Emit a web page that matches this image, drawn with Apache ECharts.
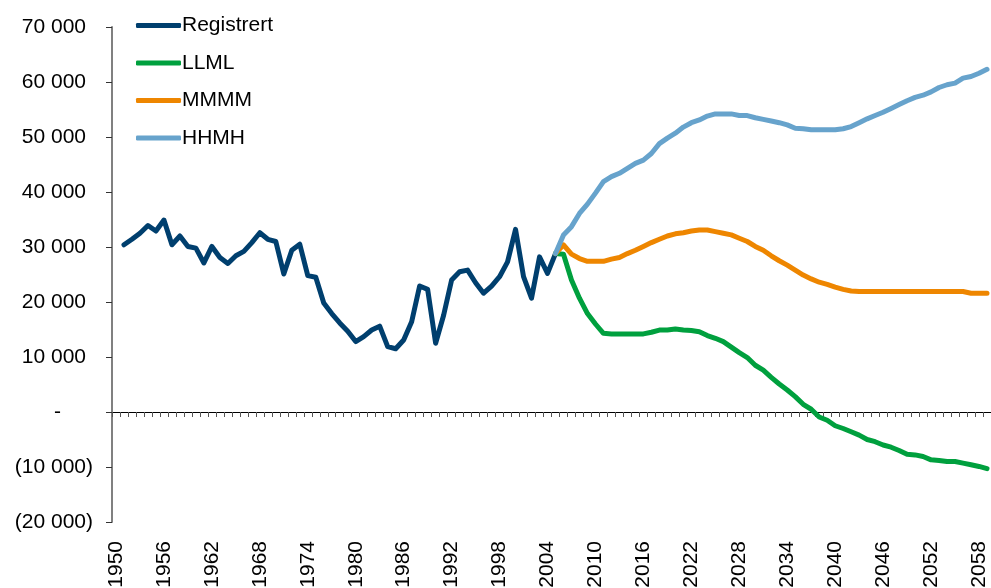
<!DOCTYPE html>
<html>
<head>
<meta charset="utf-8">
<script src="https://cdn.jsdelivr.net/npm/echarts@6/dist/echarts.min.js"></script>
<style>
  html, body { margin: 0; padding: 0; background: #fff; }
  #chart { width: 991px; height: 588px; }
</style>
</head>
<body>
<div id="chart"></div>
<script>
// år 1950-2059
var years = []
for (var y = 1950; y <= 2059; y++) years.push(String(y))

// registrert, 1951-2005
var registrert = [
  30400, 31400, 32500, 33900, 32900, 34900, 30400, 32000, 30100, 29800,
  27100, 30100, 28100, 27000, 28400, 29200, 30800, 32600, 31400, 31000,
  25100, 29400, 30500, 24800, 24500, 19800, 17900, 16200, 14700, 12800,
  13700, 14900, 15600, 11900, 11500, 13100, 16400, 22900, 22300, 12500,
  17600, 24000, 25500, 25800, 23500, 21600, 22900, 24600, 27300, 33200,
  24600, 20700, 28200, 25200, 28800
]

// framskrivinger, 2005-2059
var llml = [
  28800, 28700, 24000, 20700, 17900, 16000, 14300, 14200, 14200, 14200,
  14200, 14200, 14500, 14900, 14900, 15100, 14900, 14800, 14600, 13900,
  13400, 12800, 11800, 10800, 9900, 8500, 7600, 6300, 5100, 4000,
  2800, 1400, 500, -900, -1500, -2500, -3000, -3600, -4200, -5000,
  -5400, -6000, -6400, -7000, -7700, -7800, -8100, -8700, -8800, -9000,
  -9000, -9300, -9600, -9900, -10300
]
var mmmm = [
  28800, 30400, 28700, 27900, 27400, 27400, 27400, 27800, 28100, 28800,
  29400, 30100, 30800, 31400, 32000, 32400, 32600, 32900, 33100, 33100,
  32800, 32500, 32200, 31600, 31000, 30100, 29400, 28400, 27500, 26700,
  25800, 24900, 24200, 23600, 23200, 22700, 22300, 22000, 21900, 21900,
  21900, 21900, 21900, 21900, 21900, 21900, 21900, 21900, 21900, 21900,
  21900, 21900, 21600, 21600, 21600
]
var hhmh = [
  28800, 32200, 33700, 36100, 37800, 39800, 41900, 42800, 43400, 44300,
  45200, 45800, 47000, 48800, 49800, 50700, 51800, 52600, 53100, 53800,
  54200, 54200, 54200, 53900, 53900, 53500, 53200, 52900, 52600, 52200,
  51600, 51500, 51300, 51300, 51300, 51300, 51500, 51900, 52600, 53300,
  53900, 54500, 55200, 55900, 56600, 57200, 57600, 58200, 59000, 59500,
  59800, 60700, 61000, 61600, 62300
]

// legg verdier på riktig år
function place (values, startYear) {
  var out = years.map(function () { return null })
  var offset = startYear - 1950
  values.forEach(function (v, i) { out[offset + i] = v })
  return out
}

function yLabel (v) {
  if (v === 0) return '{z|-}'
  var s = String(Math.abs(v)).replace(/\B(?=(\d{3})+(?!\d))/g, ' ')
  return v < 0 ? '{n|(' + s + ')}' : '{p|' + s + '}'
}

var font = '"Liberation Sans", Arial, sans-serif'
var chart = echarts.init(document.getElementById('chart'))

chart.setOption({
  animation: false,
  backgroundColor: '#fff',
  textStyle: { fontFamily: font },
  legend: {
    orient: 'vertical',
    left: 131,
    top: 10,
    itemWidth: 45,
    itemHeight: 5,
    itemGap: 16.5,
    icon: 'roundRect',
    textStyle: { fontSize: 21, color: '#000', fontFamily: font, lineHeight: 21, padding: [0, 0, 0, -4] },
    data: ['Registrert', 'LLML', 'MMMM', 'HHMH']
  },
  grid: { left: 112, right: 0, top: 27, bottom: 66, containLabel: false, outerBoundsMode: 'none' },
  xAxis: [
    {
      // aksen ved null, med streker
      type: 'category',
      data: years,
      boundaryGap: true,
      axisLine: { onZero: true, lineStyle: { color: '#000', width: 1 } },
      axisTick: { show: true, interval: 0, length: 5, lineStyle: { color: '#555', width: 1 } },
      axisLabel: { show: false },
      splitLine: { show: false }
    },
    {
      // årstall nederst
      type: 'category',
      data: years,
      position: 'bottom',
      boundaryGap: true,
      axisLine: { show: false, onZero: false },
      axisTick: { show: false },
      axisLabel: {
        interval: 5,
        rotate: 90,
        margin: 19,
        fontSize: 21,
        color: '#000',
        fontFamily: font,
        hideOverlap: false
      },
      splitLine: { show: false }
    }
  ],
  yAxis: {
    type: 'value',
    min: -20000,
    max: 70000,
    interval: 10000,
    axisLine: { show: true, lineStyle: { color: '#808080', width: 2 } },
    axisTick: { show: true, length: 6, lineStyle: { color: '#333' } },
    splitLine: { show: false },
    axisLabel: {
      margin: 19,
      formatter: yLabel,
      rich: {
        p: { fontSize: 21, color: '#000', fontFamily: font, padding: [0, 7, 0, 0] },
        n: { fontSize: 21, color: '#000', fontFamily: font },
        z: { fontSize: 21, color: '#000', fontFamily: font, padding: [0, 32, 0, 0] }
      }
    }
  },
  series: [
    {
      name: 'Registrert',
      type: 'line',
      data: place(registrert, 1951),
      color: '#003f6e',
      showSymbol: false,
      lineStyle: { width: 5, color: '#003f6e', cap: 'round', join: 'round' }
    },
    {
      name: 'LLML',
      type: 'line',
      data: place(llml, 2005),
      color: '#00a03e',
      showSymbol: false,
      lineStyle: { width: 5, color: '#00a03e', cap: 'round', join: 'round' }
    },
    {
      name: 'MMMM',
      type: 'line',
      data: place(mmmm, 2005),
      color: '#ee8600',
      showSymbol: false,
      lineStyle: { width: 5, color: '#ee8600', cap: 'round', join: 'round' }
    },
    {
      name: 'HHMH',
      type: 'line',
      data: place(hhmh, 2005),
      color: '#67a3cc',
      showSymbol: false,
      lineStyle: { width: 5, color: '#67a3cc', cap: 'round', join: 'round' }
    }
  ]
})
</script>
</body>
</html>
